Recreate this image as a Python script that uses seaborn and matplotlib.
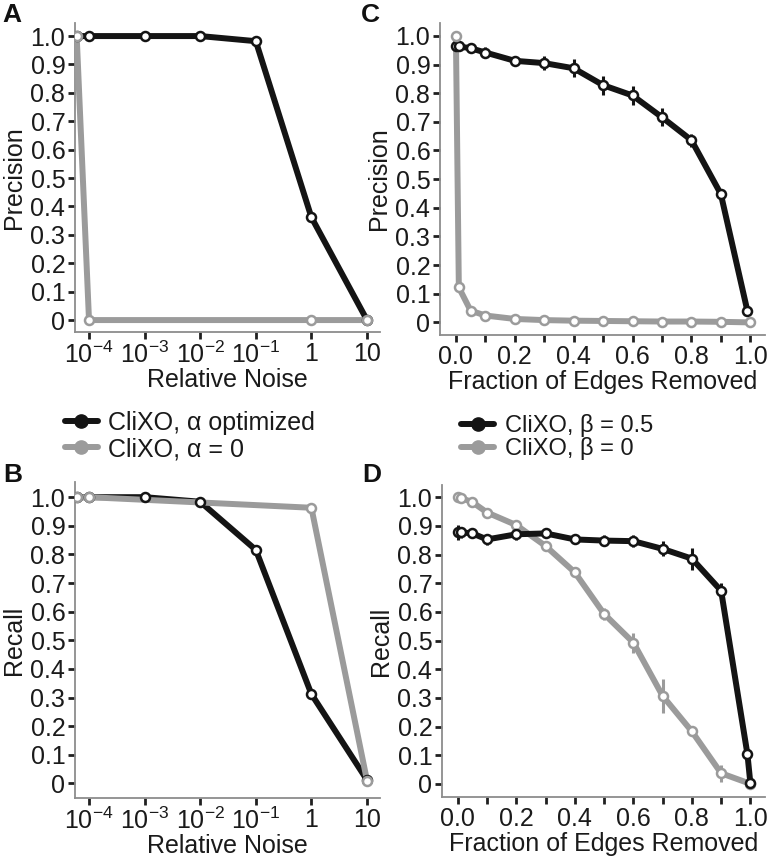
import numpy as np
import pandas as pd
import matplotlib
matplotlib.use("Agg")
import matplotlib.pyplot as plt
import seaborn as sns
from matplotlib.lines import Line2D

# ---------------- data ----------------
# Panels A / B : relative noise (first point = noise 0, drawn at the axis edge)
noise_opt = [6e-5, 1e-4, 1e-3, 1e-2, 1e-1, 1, 10]
noise_zero = [6e-5, 1e-4, 1, 10]
prec_noise_opt = [1.0, 1.0, 1.0, 1.0, 0.982, 0.362, 0.0]
prec_noise_zero = [1.0, 0.0, 0.0, 0.0]
rec_noise_opt = [1.0, 1.0, 1.0, 0.984, 0.816, 0.312, 0.012]
rec_noise_zero = [1.0, 1.0, 0.963, 0.01]
noise_ticks = [1e-4, 1e-3, 1e-2, 1e-1, 1, 10]
noise_ticklabels = [r"$10^{-4}$", r"$10^{-3}$", r"$10^{-2}$", r"$10^{-1}$", "1", "10"]

# Panels C / D : fraction of edges removed
frac_c_half = [0.0, 0.01, 0.05, 0.1, 0.2, 0.3, 0.4, 0.5, 0.6, 0.7, 0.8, 0.9, 0.99]
prec_frac_half = [0.963, 0.963, 0.957, 0.942, 0.913, 0.905, 0.887, 0.828, 0.792, 0.716, 0.636, 0.448, 0.041]
prec_frac_half_err = [0.008, 0.008, 0.012, 0.02, 0.016, 0.025, 0.032, 0.033, 0.033, 0.032, 0.023, 0.017, 0.01]
frac_zero = [0.0, 0.01, 0.05, 0.1, 0.2, 0.3, 0.4, 0.5, 0.6, 0.7, 0.8, 0.9, 1.0]
prec_frac_zero = [1.0, 0.122, 0.041, 0.024, 0.012, 0.008, 0.006, 0.005, 0.004, 0.003, 0.003, 0.002, 0.0]

frac_d_half = [0.0, 0.01, 0.05, 0.1, 0.2, 0.3, 0.4, 0.5, 0.6, 0.7, 0.8, 0.9, 0.99, 1.0]
rec_frac_half = [0.878, 0.878, 0.874, 0.853, 0.871, 0.874, 0.853, 0.849, 0.847, 0.820, 0.786, 0.674, 0.103, 0.002]
rec_frac_half_err = [0.026, 0.02, 0.01, 0.02, 0.02, 0.01, 0.015, 0.02, 0.02, 0.026, 0.038, 0.026, 0.01, 0.0]
rec_frac_zero = [1.0, 0.998, 0.983, 0.947, 0.903, 0.830, 0.738, 0.593, 0.493, 0.307, 0.183, 0.037, 0.0]
rec_frac_zero_err = [0.005, 0.005, 0.008, 0.01, 0.01, 0.01, 0.012, 0.02, 0.035, 0.06, 0.015, 0.03, 0.0]

frac_ticks = [0.0, 0.1, 0.2, 0.3, 0.4, 0.5, 0.6, 0.7, 0.8, 0.9, 1.0]
frac_ticklabels = ["0.0", "", "0.2", "", "0.4", "", "0.6", "", "0.8", "", "1.0"]
y_ticks = [0.0, 0.1, 0.2, 0.3, 0.4, 0.5, 0.6, 0.7, 0.8, 0.9, 1.0]
y_ticklabels = ["0", "0.1", "0.2", "0.3", "0.4", "0.5", "0.6", "0.7", "0.8", "0.9", "1.0"]

legend_alpha = ["CliXO, α optimized", "CliXO, α = 0"]
legend_beta = ["CliXO, β = 0.5", "CliXO, β = 0"]

# ---------------- style ----------------
sns.set_theme(style="ticks")
plt.rcParams["font.family"] = ["Liberation Sans", "DejaVu Sans"]
plt.rcParams["mathtext.fontset"] = "custom"
plt.rcParams["mathtext.rm"] = "Liberation Sans"
plt.rcParams["mathtext.it"] = "Liberation Sans:italic"
plt.rcParams["mathtext.bf"] = "Liberation Sans:bold"

BLACK = "#141414"
GRAY = "#9b9b9b"
SPINE = "#8c8c8c"
TXT = "#1a1a1a"
FS = 18
LW = 4.3
MS = 42

fig = plt.figure(figsize=(7.69, 8.61), dpi=100)
W, H = 769.0, 861.0


def axes_px(left, top, right, bottom):
    return fig.add_axes([left / W, 1 - bottom / H, (right - left) / W, (bottom - top) / H])


axA = axes_px(75, 23, 380, 332)
axC = axes_px(440, 23, 765, 335)
axB = axes_px(75, 482, 380, 798)
axD = axes_px(442, 485, 765, 797)


def style_axis(ax):
    sns.despine(ax=ax)
    for s in ["left", "bottom"]:
        ax.spines[s].set_color(SPINE)
        ax.spines[s].set_linewidth(1.3)
    ax.tick_params(axis="both", which="both", direction="out", length=5, width=2.0,
                   color="#202020", labelsize=FS, pad=2, labelcolor=TXT)
    ax.set_yticks(y_ticks)
    ax.set_yticklabels(y_ticklabels)
    ax.grid(False)


def draw_series(ax, x, y, color, z, err=None):
    sns.lineplot(x=x, y=y, color=color, linewidth=LW, ax=ax, zorder=z, sort=False,
                 errorbar=None, solid_joinstyle="round", solid_capstyle="round")
    if err is not None:
        ax.errorbar(x, y, yerr=err, fmt="none", ecolor=color, elinewidth=2.2,
                    capsize=0, zorder=z)


def draw_markers(ax, x, y, color, z):
    sns.scatterplot(x=x, y=y, ax=ax, s=MS, facecolor="white", edgecolor=color,
                    linewidth=1.8, zorder=z, legend=False)


# ---- Panel A ----
draw_series(axA, noise_opt, prec_noise_opt, BLACK, 2)
draw_series(axA, noise_zero, prec_noise_zero, GRAY, 3)
draw_markers(axA, noise_opt, prec_noise_opt, BLACK, 4)
draw_markers(axA, noise_zero, prec_noise_zero, GRAY, 5)
axA.set_xscale("log")

# ---- Panel B ----
draw_series(axB, noise_opt, rec_noise_opt, BLACK, 2)
draw_series(axB, noise_zero, rec_noise_zero, GRAY, 3)
draw_markers(axB, noise_opt, rec_noise_opt, BLACK, 4)
draw_markers(axB, noise_zero, rec_noise_zero, GRAY, 5)
axB.set_xscale("log")

for ax in (axA, axB):
    style_axis(ax)
    ax.set_xlim(10 ** -4.252, 10 ** 1.234)
    ax.set_xticks(noise_ticks)
    ax.set_xticklabels(noise_ticklabels)
    ax.minorticks_off()
    ax.set_xlabel("Relative Noise", fontsize=FS, labelpad=0, color=TXT)
axA.set_ylim(-0.042, 1.046)
axB.set_ylim(-0.051, 1.053)
axA.set_ylabel("Precision", fontsize=FS, labelpad=3, color=TXT)
axB.set_ylabel("Recall", fontsize=FS, labelpad=3, color=TXT)

# ---- Panel C ----
draw_series(axC, frac_c_half, prec_frac_half, BLACK, 2, prec_frac_half_err)
draw_series(axC, frac_zero, prec_frac_zero, GRAY, 3)
draw_markers(axC, frac_c_half, prec_frac_half, BLACK, 4)
draw_markers(axC, frac_zero, prec_frac_zero, GRAY, 5)

# ---- Panel D ----
draw_series(axD, frac_d_half, rec_frac_half, BLACK, 3, rec_frac_half_err)
draw_series(axD, frac_zero, rec_frac_zero, GRAY, 2, rec_frac_zero_err)
draw_markers(axD, frac_zero, rec_frac_zero, GRAY, 4)
draw_markers(axD, frac_d_half, rec_frac_half, BLACK, 5)

for ax in (axC, axD):
    style_axis(ax)
    ax.set_xlim(-0.054, 1.05)
    ax.set_xticks(frac_ticks)
    ax.set_xticklabels(frac_ticklabels)
    ax.set_xlabel("Fraction of Edges Removed", fontsize=FS, labelpad=1, color=TXT)
axC.set_ylim(-0.044, 1.045)
axD.set_ylim(-0.046, 1.043)
axC.set_ylabel("Precision", fontsize=FS, labelpad=3, color=TXT)
axD.set_ylabel("Recall", fontsize=FS, labelpad=3, color=TXT)

# ---- panel letters ----
for letter, (px, py) in zip("ACBD", [(2, 22), (361, 22), (3, 482), (362, 482)]):
    fig.text(px / W, 1 - py / H, letter, fontsize=FS + 1, fontweight="bold",
             ha="left", va="baseline", color="#111111")


# ---- legends ----
def legend_handles():
    return [Line2D([0], [0], color=BLACK, lw=LW, marker="o", markersize=9.5,
                   markerfacecolor=BLACK, markeredgecolor=BLACK),
            Line2D([0], [0], color=GRAY, lw=LW, marker="o", markersize=9.5,
                   markerfacecolor=GRAY, markeredgecolor=GRAY)]


leg1 = fig.legend(legend_handles(), legend_alpha, loc="center left",
                  bbox_to_anchor=(65 / W, 1 - 436 / H), frameon=False, fontsize=FS,
                  handlelength=1.3, handletextpad=0.4, labelspacing=0.1,
                  borderpad=0, borderaxespad=0)
leg2 = fig.legend(legend_handles(), legend_beta, loc="center left",
                  bbox_to_anchor=(461 / W, 1 - 437 / H), frameon=False, fontsize=FS - 1,
                  handlelength=1.4, handletextpad=0.45, labelspacing=0.0,
                  borderpad=0, borderaxespad=0)
for leg in (leg1, leg2):
    for t in leg.get_texts():
        t.set_color(TXT)

fig.savefig("out.png", dpi=100)
